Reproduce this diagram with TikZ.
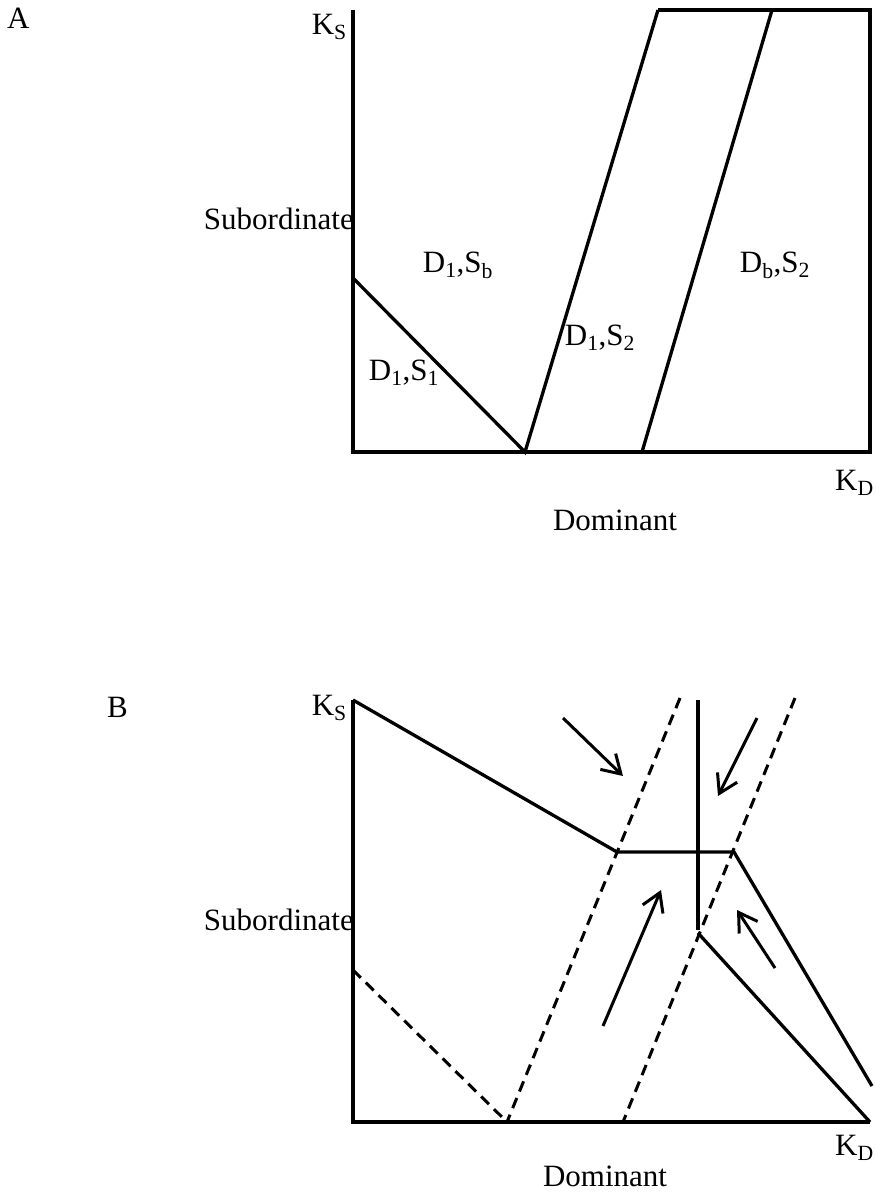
\documentclass[tikz,border=0pt]{standalone}
\usepackage{fontspec}
\setmainfont{Liberation Serif}
\usepackage{tikz}
\usetikzlibrary{arrows.meta}

\begin{document}
\begin{tikzpicture}[x=1pt, y=-1pt,
          lbl/.style={font=\fontsize{31}{35}\selectfont, inner sep=0pt},
          bnd/.style={line width=3.3pt, line join=miter},
          guide/.style={line width=3pt, dash pattern=on 11pt off 7pt},
          flow/.style={line width=3pt, -{Straight Barb[length=18pt, width=22pt]}}
        ]
        \useasboundingbox (0,0) rectangle (876,1195);

        % Panel A: corners and phase boundaries
        \coordinate (aTop) at (353,10);
        \coordinate (aO)   at (353,452);
        \coordinate (aBR)  at (870,452);
        \coordinate (aTR)  at (870,10);
        \coordinate (aS)   at (353,278);
        \coordinate (aV)   at (525,452);
        \coordinate (aL1)  at (658,10);
        \coordinate (aL2b) at (642,452);
        \coordinate (aL2t) at (772,10);

        \draw[bnd] (aTop) -- (aO) -- (aBR) -- (aTR) -- (aL1);
        \draw[bnd] (aS) -- (aV) -- (aL1);
        \draw[bnd] (aL2b) -- (aL2t);

        \node[lbl, anchor=base west] (tagA) at (7,28) {A};
        \node[lbl, anchor=base east] (ksA) at (347,34) {K\textsubscript{S}};
        \node[lbl, anchor=base east] (subA) at (354,229) {Subordinate};
        \node[lbl, anchor=base west] (kdA) at (835,490) {K\textsubscript{D}};
        \node[lbl, anchor=base] (domA) at (615,530) {Dominant};
        \node[lbl, anchor=base] (rSb) at (458,272) {D\textsubscript{1},S\textsubscript{b}};
        \node[lbl, anchor=base] (rbS) at (775,272) {D\textsubscript{b},S\textsubscript{2}};
        \node[lbl, anchor=base] (rS2) at (600,345) {D\textsubscript{1},S\textsubscript{2}};
        \node[lbl, anchor=base] (rS1) at (404,380) {D\textsubscript{1},S\textsubscript{1}};

        % Panel B: axes
        \coordinate (bTop) at (353,700);
        \coordinate (bO)   at (353,1122);
        \coordinate (bR)   at (870,1122);
        \draw[bnd] (bTop) -- (bO) -- (bR);

        % Panel B: solid boundaries
        \coordinate (bK1) at (617,852);
        \coordinate (bK2) at (734,852);
        \coordinate (bE)  at (872,1086);
        \coordinate (bVt) at (698,700);
        \coordinate (bVb) at (698,930);
        \coordinate (bVc) at (698,933);
        \draw[bnd] (bTop) -- (bK1) -- (bK2) -- (bE);
        \draw[bnd] (bVt) -- (bVb);
        \draw[bnd] (bVc) -- (bR);

        % Panel B: dashed boundaries
        \coordinate (bD1t) at (680,698);
        \coordinate (bD1b) at (507,1122);
        \coordinate (bD2t) at (795,698);
        \coordinate (bD2b) at (623,1122);
        \coordinate (bDs)  at (353,970);
        \draw[guide] (bD1t) -- (bD1b);
        \draw[guide] (bD2t) -- (bD2b);
        \draw[guide] (bDs) -- (bD1b);

        % Panel B: arrows
        \coordinate (f1a) at (563,718);  \coordinate (f1b) at (623,776);
        \coordinate (f2a) at (757,718);  \coordinate (f2b) at (718,796);
        \coordinate (f3a) at (603,1026); \coordinate (f3b) at (661,890);
        \coordinate (f4a) at (775,968);  \coordinate (f4b) at (737,910);
        \draw[flow] (f1a) -- (f1b);
        \draw[flow] (f2a) -- (f2b);
        \draw[flow] (f3a) -- (f3b);
        \draw[flow] (f4a) -- (f4b);

        \node[lbl, anchor=base west] (tagB) at (107,717) {B};
        \node[lbl, anchor=base east] (ksB) at (347,715) {K\textsubscript{S}};
        \node[lbl, anchor=base east] (subB) at (354,930) {Subordinate};
        \node[lbl, anchor=base west] (kdB) at (835,1155) {K\textsubscript{D}};
        \node[lbl, anchor=base] (domB) at (605,1186) {Dominant};
      \end{tikzpicture}
\end{document}
